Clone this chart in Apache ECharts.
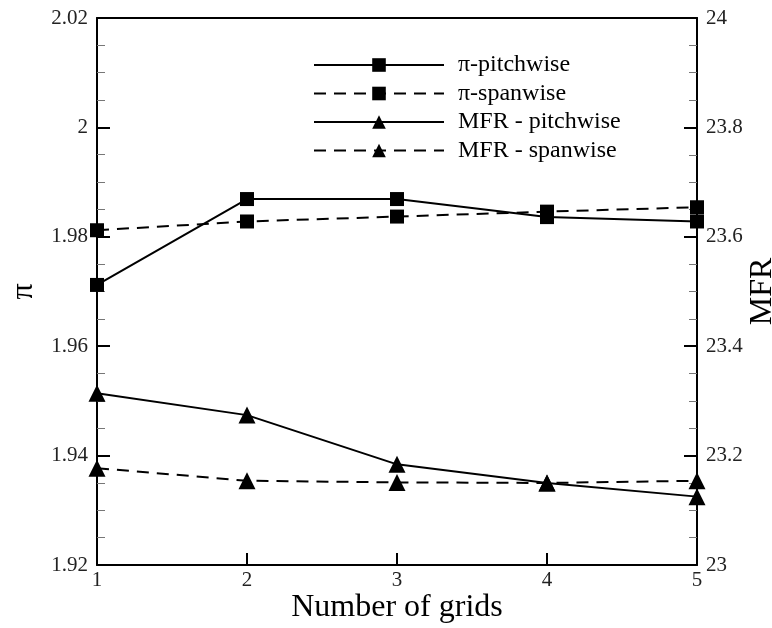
<!DOCTYPE html>
<html><head><meta charset="utf-8">
<script src="https://cdn.jsdelivr.net/npm/echarts@6/dist/echarts.min.js"></script>
<style>html,body{margin:0;padding:0;background:#fff}#c{width:772px;height:628px}</style>
</head><body><div id="c"></div>
<script>
const grids = [1, 2, 3, 4, 5];
const piPitchwise = [1.9712, 1.9869, 1.9869, 1.9836, 1.9828];
const piSpanwise = [1.9812, 1.9828, 1.9837, 1.9846, 1.9854];
const mfrPitchwise = [23.314, 23.274, 23.184, 23.150, 23.125];
const mfrSpanwise = [23.177, 23.154, 23.151, 23.150, 23.154];
const seriesNames = ['\u03c0-pitchwise', '\u03c0-spanwise', 'MFR - pitchwise', 'MFR - spanwise'];

const FONT = '"Liberation Serif", "DejaVu Serif", serif';
const fmt = v => String(Number(v.toFixed(3)));
const pair = arr => grids.map((g, i) => [g, arr[i]]);

const axisLine = { show: true, lineStyle: { color: '#000', width: 2 } };
const mkY = (pos, min, max, interval, name) => ({
  type: 'value', position: pos, min, max, interval,
  name, nameLocation: 'middle', nameRotate: 90, nameMoveOverlap: false,
  nameGap: pos === 'left' ? 57 : 50,
  nameTextStyle: { fontFamily: FONT, fontSize: 32, color: '#000' },
  axisLine,
  axisTick: { show: true, inside: true, length: 13, lineStyle: { color: '#000', width: 2 } },
  minorTick: { show: true, splitNumber: 4, length: 8, lineStyle: { color: '#777', width: 1 } },
  axisLabel: { fontFamily: FONT, fontSize: 21, color: '#222', margin: 9, formatter: fmt, showMinLabel: true, showMaxLabel: true },
  splitLine: { show: false }
});

const lineSeries = (name, data, yIdx, dashed, symbol, size) => ({
  name, type: 'line', data, yAxisIndex: yIdx, xAxisIndex: 0,
  symbol, symbolSize: size, showAllSymbol: true,
  lineStyle: { color: '#000', width: 2, type: dashed ? [12, 8] : 'solid' },
  itemStyle: { color: '#000' },
  animation: false, z: 3
});

const chart = echarts.init(document.getElementById('c'));
chart.setOption({
  backgroundColor: '#fff',
  animation: false,
  grid: { left: 97, right: 75, top: 18, bottom: 63, outerBoundsMode: 'none', containLabel: false },
  xAxis: [{
    type: 'value', min: 1, max: 5, interval: 1, position: 'bottom',
    name: 'Number of grids', nameLocation: 'middle', nameGap: 27, nameMoveOverlap: false,
    nameTextStyle: { fontFamily: FONT, fontSize: 32, color: '#000' },
    axisLine,
    axisTick: { show: true, inside: true, length: 12, lineStyle: { color: '#000', width: 2 } },
    axisLabel: { fontFamily: FONT, fontSize: 21, color: '#222', margin: 5, showMinLabel: true, showMaxLabel: true },
    splitLine: { show: false }
  }, {
    type: 'value', min: 1, max: 5, position: 'top',
    axisLine, axisTick: { show: false }, axisLabel: { show: false }, splitLine: { show: false }
  }],
  yAxis: [
    mkY('left', 1.92, 2.02, 0.02, '\u03c0'),
    mkY('right', 23, 24, 0.2, 'MFR')
  ],
  legend: {
    orient: 'vertical', left: 313, top: 53, padding: 0,
    itemWidth: 130, itemHeight: 17, itemGap: 4.5,
    data: seriesNames,
    textStyle: { fontFamily: FONT, fontSize: 24, color: '#000', lineHeight: 24, padding: [0, 0, 0, 9] },
    inactiveColor: '#000'
  },
  series: [
    lineSeries(seriesNames[0], pair(piPitchwise), 0, false, 'rect', 14),
    lineSeries(seriesNames[1], pair(piSpanwise), 0, true, 'rect', 14),
    lineSeries(seriesNames[2], pair(mfrPitchwise), 1, false, 'triangle', 17),
    lineSeries(seriesNames[3], pair(mfrSpanwise), 1, true, 'triangle', 17)
  ]
});
</script></body></html>
